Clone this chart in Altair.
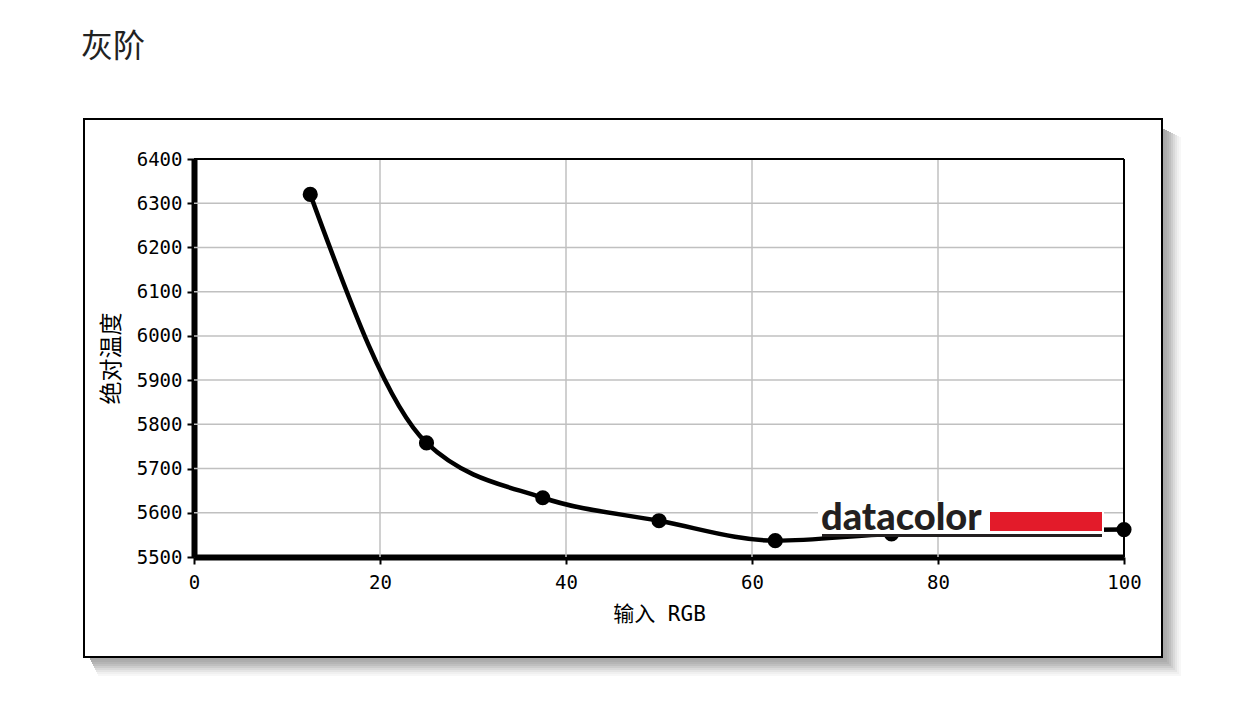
import altair as alt
import pandas as pd

# ---- data ----
x_rgb = [12.5, 25, 37.5, 50, 62.5, 75, 100]
y_temp = [6320, 5758, 5634, 5582, 5537, 5552, 5562]
x_grid = [20, 40, 60, 80]
y_grid = [5600, 5700, 5800, 5900, 6000, 6100, 6200, 6300]
x_ticks = [0, 20, 40, 60, 80, 100]
y_ticks = [5500, 5600, 5700, 5800, 5900, 6000, 6100, 6200, 6300, 6400]

title_text = "灰阶"
x_title = "输入 RGB"
y_title = "绝对温度"
logo_text = "datacolor"

df = pd.DataFrame({"x": x_rgb, "y": y_temp})
one = pd.DataFrame({"d": [0]})

W, H = 930, 398
MONO = "DejaVu Sans Mono, Noto Sans CJK SC"
CJK = "Noto Sans CJK SC"

xs = alt.Scale(domain=[0, 100], nice=False, zero=False)
ys = alt.Scale(domain=[5500, 6400], nice=False, zero=False)

# decorations: page title, frame, shadow, logo (pixel positions)
title = alt.Chart(one).mark_text(
    text=title_text, font=CJK, fontSize=32, color="#222", align="left", baseline="middle"
).encode(x=alt.value(-113), y=alt.value(-112))

page_rule = alt.Chart(one).mark_rule(color="#eeeeee", strokeWidth=2).encode(
    x=alt.value(-194), x2=alt.value(1040), y=alt.value(545)
)

shadows = []
ops = [0.34, 0.32, 0.29, 0.25, 0.2, 0.15, 0.1, 0.06, 0.03]
for i, op in enumerate(ops):
    # right strip
    shadows.append(
        alt.Chart(one).mark_rect(color="black", opacity=op).encode(
            x=alt.value(969 + 2 * i), x2=alt.value(971 + 2 * i),
            y=alt.value(-30 + i), y2=alt.value(501 + 2 * i),
        )
    )
    # bottom strip
    shadows.append(
        alt.Chart(one).mark_rect(color="black", opacity=op).encode(
            x=alt.value(-104 + i), x2=alt.value(969 + 2 * i),
            y=alt.value(499 + 2 * i), y2=alt.value(501 + 2 * i),
        )
    )

frame = alt.Chart(one).mark_rect(fill="white", fillOpacity=0, stroke="black", strokeWidth=2).encode(
    x=alt.value(-110), x2=alt.value(968), y=alt.value(-40), y2=alt.value(498)
)

xgrid = alt.Chart(pd.DataFrame({"g": x_grid})).mark_rule(color="#c0c0c0", strokeWidth=1.5).encode(
    x=alt.X("g:Q", scale=xs), y=alt.value(0), y2=alt.value(H)
)
ygrid = alt.Chart(pd.DataFrame({"g": y_grid})).mark_rule(color="#c0c0c0", strokeWidth=1.5).encode(
    y=alt.Y("g:Q", scale=ys), x=alt.value(0), x2=alt.value(W)
)
top_border = alt.Chart(one).mark_rule(color="black", strokeWidth=2).encode(
    x=alt.value(0), x2=alt.value(W), y=alt.value(0)
)
right_border = alt.Chart(one).mark_rule(color="black", strokeWidth=2).encode(
    x=alt.value(W), y=alt.value(0), y2=alt.value(H)
)

line = alt.Chart(df).mark_line(color="black", strokeWidth=4.5, interpolate="monotone").encode(
    x=alt.X("x:Q", scale=xs,
            axis=alt.Axis(values=x_ticks, title=x_title, grid=False, format="d", labelFlush=False,
                          domainColor="black", domainWidth=6, tickColor="black", tickWidth=2, tickSize=7,
                          labelFont=MONO, labelFontSize=19, labelColor="black", labelPadding=9,
                          titleFont=MONO, titleFontSize=21, titleFontWeight="normal", titleColor="black",
                          titlePadding=11)),
    y=alt.Y("y:Q", scale=ys,
            axis=alt.Axis(values=y_ticks, title=y_title, grid=False, format="d", labelFlush=False,
                          domainColor="black", domainWidth=6, tickColor="black", tickWidth=2, tickSize=7,
                          labelFont=MONO, labelFontSize=19, labelColor="black", labelPadding=5,
                          titleFont=CJK, titleFontSize=23, titleFontWeight="normal", titleColor="black",
                          titlePadding=13)),
)
points = alt.Chart(df).mark_circle(color="black", size=230, opacity=1).encode(
    x=alt.X("x:Q", scale=xs), y=alt.Y("y:Q", scale=ys)
)

logo_bg = alt.Chart(one).mark_rect(color="white").encode(
    x=alt.value(624), x2=alt.value(910), y=alt.value(342), y2=alt.value(376)
)
logo = alt.Chart(one).mark_text(
    text=logo_text, font="Lato", fontWeight=900, fontSize=38, color="#231f20",
    align="left", baseline="alphabetic"
).encode(x=alt.value(627), y=alt.value(371))
logo_red = alt.Chart(one).mark_rect(color="#e31b2a").encode(
    x=alt.value(796), x2=alt.value(908), y=alt.value(353), y2=alt.value(372)
)
logo_line = alt.Chart(one).mark_rect(color="#231f20").encode(
    x=alt.value(628), x2=alt.value(908), y=alt.value(375), y2=alt.value(378)
)

chart = alt.layer(
    page_rule, *shadows, frame, title, xgrid, ygrid, top_border, right_border,
    line, points, logo_bg, logo, logo_red, logo_line
).properties(
    width=W, height=H,
    autosize=alt.AutoSizeParams(type="none"),
    padding={"left": 186, "top": 151, "right": 102, "bottom": 142},
).configure_view(stroke=None, fill="white").configure(background="white")

chart.save("out.html", embed_options={"renderer": "svg", "actions": False})
